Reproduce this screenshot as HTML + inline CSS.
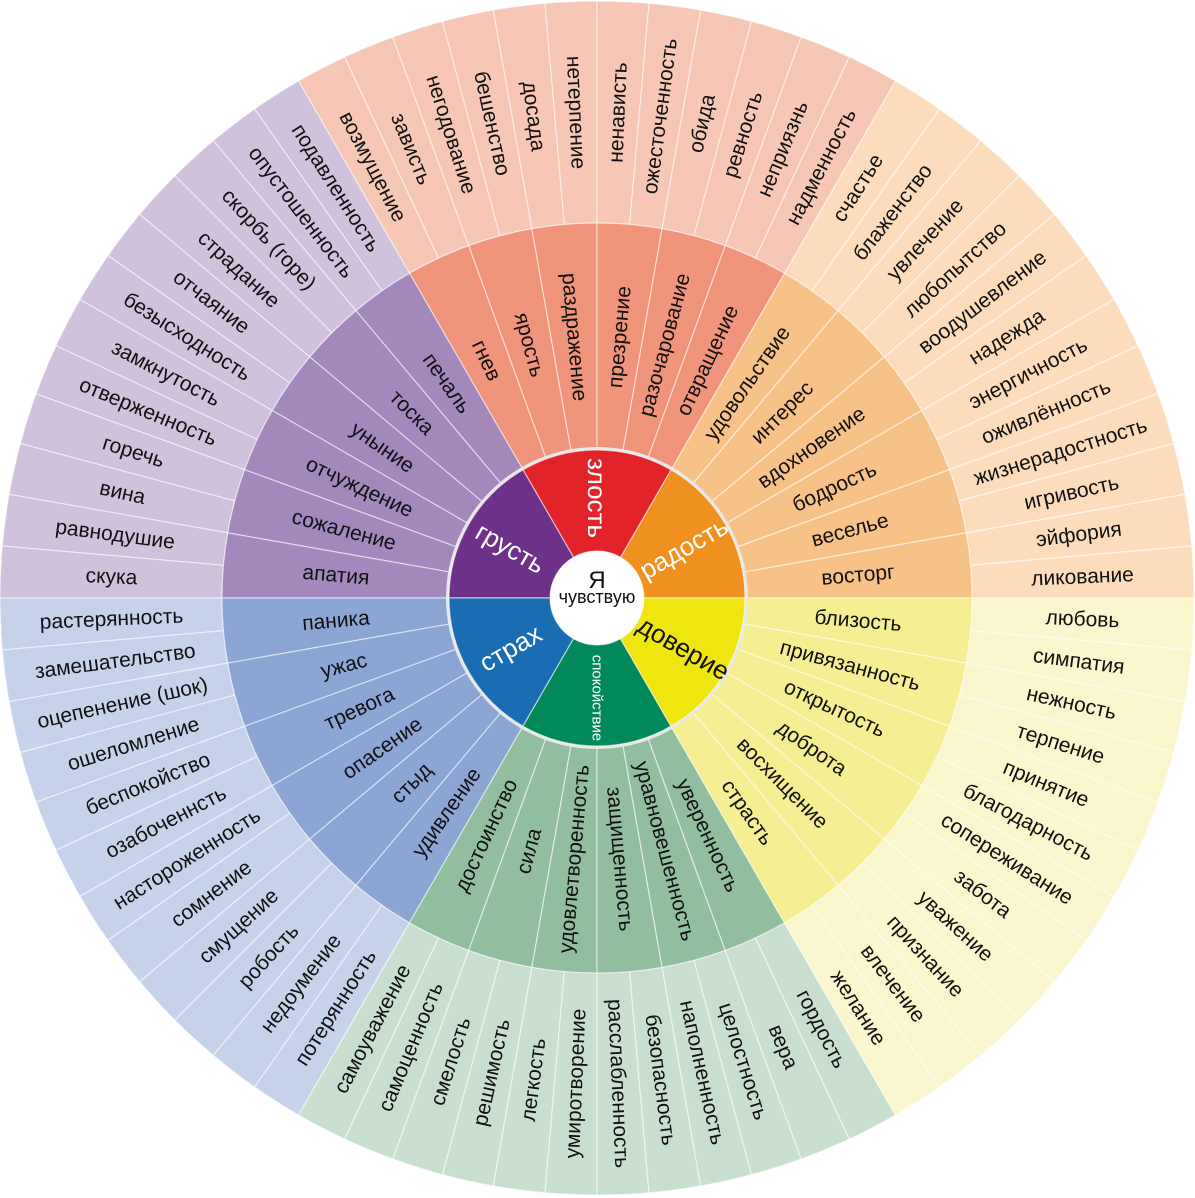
<!DOCTYPE html>
<html><head><meta charset="utf-8"><style>
html,body{margin:0;padding:0;background:#fff;width:1195px;height:1198px;overflow:hidden}
svg text{font-family:"Liberation Sans","DejaVu Sans",sans-serif}
</style></head><body>
<svg id="w" width="1195" height="1198" viewBox="0 0 1195 1198" xmlns="http://www.w3.org/2000/svg"></svg>
<script>
var cx=597,cy=598,R0=47,R1=150,R2=375,R3=597;
var S=[
{n:"радость",s:-60,d:1,c:["#f0901e","#f7c287","#fcdcbb"],tc:"#fff",fs:26,
 m:["удовольствие","интерес","вдохновение","бодрость","веселье","восторг"],
 o:["счастье","блаженство","увлечение","любопытство","воодушевление","надежда","энергичность","оживлённость","жизнерадостность","игривость","эйфория","ликование"]},
{n:"злость",s:-120,d:1,c:["#e3232a","#f0947b","#f6c7b5"],tc:"#fff",fs:26,
 m:["гнев","ярость","раздражение","презрение","разочарование","отвращение"],
 o:["возмущение","зависть","негодование","бешенство","досада","нетерпение","ненависть","ожесточенность","обида","ревность","неприязнь","надменность"]},
{n:"грусть",s:-120,d:-1,c:["#6d318a","#a388bb","#d0c1dd"],tc:"#fff",fs:26,
 m:["печаль","тоска","уныние","отчуждение","сожаление","апатия"],
 o:["подавленность","опустошенность","скорбь (горе)","страдание","отчаяние","безысходность","замкнутость","отверженность","горечь","вина","равнодушие","скука"]},
{n:"страх",s:180,d:-1,c:["#1b6db3","#8ca6d4","#c5d2ea"],tc:"#fff",fs:26,
 m:["паника","ужас","тревога","опасение","стыд","удивление"],
 o:["растерянность","замешательство","оцепенение (шок)","ошеломление","беспокойство","озабоченнсть","настороженность","сомнение","смущение","робость","недоумение","потерянность"]},
{n:"спокойствие",s:120,d:-1,c:["#02895a","#92bea0","#c8dfd0"],tc:"#fff",fs:15,
 m:["достоинство","сила","удовлетворенность","защищенность","уравновешенность","уверенность"],
 o:["самоуважение","самоценность","смелость","решимость","легкость","умиротворение","расслабленность","безопасность","наполненность","целостность","вера","гордость"]},
{n:"доверие",s:0,d:1,c:["#efe50f","#f5ee92","#faf6cd"],tc:"#111",fs:26,
 m:["близость","привязанность","открытость","доброта","восхищение","страсть"],
 o:["любовь","симпатия","нежность","терпение","принятие","благодарность","сопереживание","забота","уважение","признание","влечение","желание"]}
];
var NS="http://www.w3.org/2000/svg",svg=document.getElementById("w");
function el(t,a,txt){var e=document.createElementNS(NS,t);for(var k in a)e.setAttribute(k,a[k]);if(txt!=null)e.textContent=txt;svg.appendChild(e);return e;}
function pt(r,a){var t=a*Math.PI/180;return [cx+r*Math.cos(t),cy+r*Math.sin(t)];}
function sec(r1,r2,a1,a2,fill){if(a2<a1){var t=a1;a1=a2;a2=t;}
 var p1=pt(r2,a1),p2=pt(r2,a2),p3=pt(r1,a2),p4=pt(r1,a1),l=(a2-a1)>180?1:0;
 el("path",{d:"M"+p1+"A"+r2+","+r2+" 0 "+l+" 1 "+p2+"L"+p3+"A"+r1+","+r1+" 0 "+l+" 0 "+p4+"Z",fill:fill,stroke:"#fff","stroke-opacity":"0.55","stroke-width":"1.2"});}
function norm(a){while(a>180)a-=360;while(a<=-180)a+=360;return a;}
function lab(txt,r,a,fs,col){a=norm(a);var rot=(a>-90&&a<=90)?a:a+180;var p=pt(r,a);
 el("text",{x:0,y:0,"font-size":fs,fill:col,"text-anchor":"middle","dominant-baseline":"central",transform:"translate("+p[0].toFixed(1)+","+p[1].toFixed(1)+") rotate("+rot+")"},txt);}
S.forEach(function(g){
 for(var i=0;i<12;i++){sec(R2,R3,g.s+g.d*i*5,g.s+g.d*(i+1)*5,g.c[2]);}
 for(var i=0;i<6;i++){sec(R1,R2,g.s+g.d*i*10,g.s+g.d*(i+1)*10,g.c[1]);}
});
el("circle",{cx:cx,cy:cy,r:R1+1,fill:"#e8e8e8"});
S.forEach(function(g){sec(R0,R1-2,g.s,g.s+g.d*60,g.c[0]);});
S.forEach(function(g){
 for(var i=0;i<12;i++)lab(g.o[i],486,g.s+g.d*(i+0.5)*5,21,"#111");
 for(var i=0;i<6;i++)lab(g.m[i],262,g.s+g.d*(i+0.5)*10,21,"#111");
 lab(g.n,100,g.s+g.d*30,g.fs,g.tc);
});
el("circle",{cx:cx,cy:cy,r:R0,fill:"#fff"});
el("text",{x:cx,y:cy-10,"font-size":24,fill:"#111","text-anchor":"middle"},"Я");
el("text",{x:cx,y:cy+5,"font-size":18,fill:"#111","text-anchor":"middle"},"чувствую");
</script>
</body></html>
